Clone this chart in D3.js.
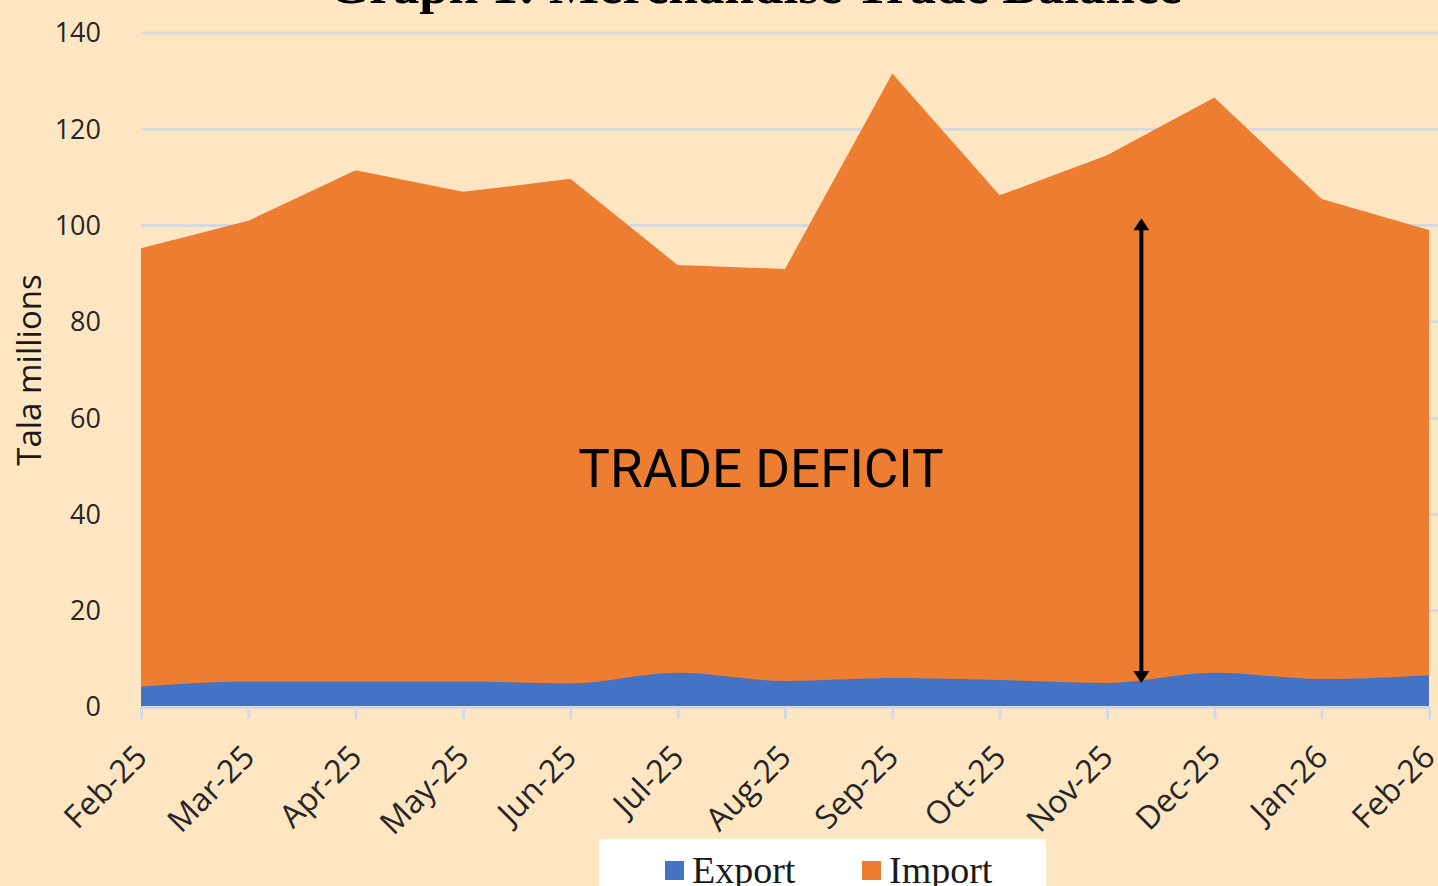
<!DOCTYPE html>
<html><head><meta charset="utf-8">
<script src="https://cdn.jsdelivr.net/npm/d3@7"></script>
<style>
html,body{margin:0;padding:0;background:#FFE6C3;overflow:hidden;}
svg{display:block;}
</style></head>
<body>
<svg id="chart" width="1438" height="886"></svg>
<script>
const months = ["Feb-25","Mar-25","Apr-25","May-25","Jun-25","Jul-25","Aug-25","Sep-25","Oct-25","Nov-25","Dec-25","Jan-26","Feb-26"];
const exportVals = [4.2,5.3,5.3,5.3,4.9,7.1,5.4,6.0,5.6,5.0,7.1,5.8,6.6];
const importVals = [95.3,101.0,111.5,107.0,109.7,91.8,91.0,131.6,106.3,114.6,126.6,105.5,99.1];
const yTicks = [0,20,40,60,80,100,120,140];
const seriesNames = ["Export","Import"];
const colors = {Export:"#4472C4", Import:"#ED7D31"};
const titleText = "Graph 1: Merchandise Trade Balance";
const yLabel = "Tala millions";
const annotation = "TRADE DEFICIT";
const arrowAt = {from: 5.0, to: 101.5, pos: 9.32};

const svg = d3.select("#chart");
const x = d3.scalePoint().domain(months).range([141,1429]);
const y = d3.scaleLinear().domain([0,140]).range([707,33]);

// gridlines
svg.append("g").selectAll("line").data(yTicks.filter(d=>d>0)).join("line")
  .attr("x1",141).attr("x2",1438)
  .attr("y1",d=>y(d)).attr("y2",d=>y(d))
  .attr("stroke","#D6D9DE").attr("stroke-width",3);

// y tick labels
svg.append("g").selectAll("text").data(yTicks).join("text")
  .attr("x",101).attr("y",d=>y(d)).attr("dy","0.35em")
  .attr("text-anchor","end")
  .attr("font-family","'Open Sans', sans-serif").attr("font-size",27)
  .attr("fill","#262626").text(d=>d);

// import area
const importArea = d3.area().x((d,i)=>x(months[i])).y0(y(0)).y1(d=>y(d));
svg.append("path").datum(importVals).attr("d",importArea).attr("fill",colors.Import);

// export area
const exportArea = d3.area().x((d,i)=>x(months[i])).y0(y(0)).y1(d=>y(d)).curve(d3.curveMonotoneX);
svg.append("path").datum(exportVals).attr("d",exportArea).attr("fill",colors.Export);

// x axis
const xAxis = d3.axisBottom(x).tickSize(12).tickSizeOuter(0).tickFormat("");
const xg = svg.append("g").attr("transform",`translate(0,${y(0)})`).call(xAxis);
xg.select(".domain").attr("stroke","#D6D9DE").attr("stroke-width",3);
xg.selectAll(".tick line").attr("stroke","#D6D9DE").attr("stroke-width",3);

// x labels
svg.append("g").selectAll("text").data(months).join("text")
  .attr("transform",d=>`translate(${x(d)+8},${759}) rotate(-45)`)
  .attr("text-anchor","end")
  .attr("font-family","'Open Sans', sans-serif").attr("font-size",32)
  .attr("fill","#262626").text(d=>d);

// y label
svg.append("text").attr("transform","translate(41,370) rotate(-90)")
  .attr("text-anchor","middle")
  .attr("font-family","'Open Sans', sans-serif").attr("font-size",33)
  .attr("fill","#1a1a1a").text(yLabel);

// title (cut off at top)
svg.append("text").attr("x",755).attr("y",3).attr("text-anchor","middle")
  .attr("font-family","'Liberation Serif', serif").attr("font-weight","bold")
  .attr("font-size",53).attr("fill","#000").text(titleText);

// annotation text
svg.append("text").attr("x",761).attr("y",487).attr("text-anchor","middle")
  .attr("font-family","Roboto, sans-serif").attr("font-size",53)
  .attr("fill","#000").text(annotation);

// double arrow
const ax = x(months[0]) + arrowAt.pos*(x(months[1])-x(months[0]));
const yTop = y(arrowAt.to), yBot = y(arrowAt.from);
svg.append("line").attr("x1",ax).attr("x2",ax).attr("y1",yTop+8).attr("y2",yBot-8)
  .attr("stroke","#000").attr("stroke-width",4);
svg.append("path").attr("d",`M${ax},${yTop} L${ax-8},${yTop+12} L${ax+8},${yTop+12} Z`).attr("fill","#000");
svg.append("path").attr("d",`M${ax},${yBot} L${ax-8},${yBot-12} L${ax+8},${yBot-12} Z`).attr("fill","#000");

// legend
const lg = svg.append("g");
lg.append("rect").attr("x",599).attr("y",839).attr("width",447).attr("height",60).attr("fill","#fff");
const legX = {Export:665, Import:862};
seriesNames.forEach(n=>{
  lg.append("rect").attr("x",legX[n]).attr("y",861).attr("width",19).attr("height",19).attr("fill",colors[n]);
  lg.append("text").attr("x",legX[n]+27).attr("y",883)
    .attr("font-family","'Liberation Serif', serif").attr("font-size",38)
    .attr("fill","#1a1a1a").text(n);
});
</script>
</body></html>
